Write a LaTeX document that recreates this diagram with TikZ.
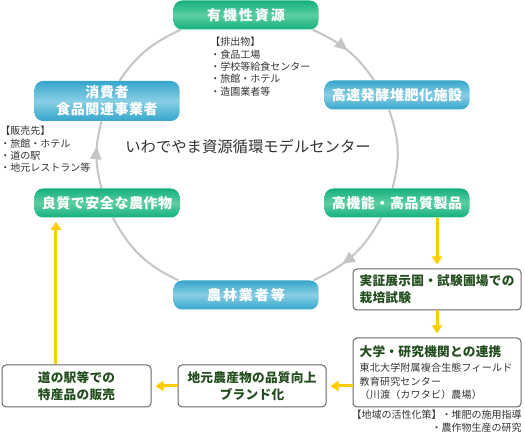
\documentclass[tikz,border=0pt]{standalone}
\usepackage{fontspec}
\setmainfont{Noto Sans CJK JP}
\usepackage{xcolor}
\usepackage{tikz}
\usetikzlibrary{arrows.meta, positioning, calc, backgrounds, decorations.markings}

\definecolor{ringgray}{HTML}{C4C6C4}
\definecolor{greentop}{HTML}{14B07C}
\definecolor{greenmid}{HTML}{5CCEA2}
\definecolor{bluetop}{HTML}{36A6CB}
\definecolor{bluemid}{HTML}{88CEE5}
\definecolor{flowyellow}{HTML}{FFCC00}
\definecolor{boxgreen}{HTML}{234D1E}
\definecolor{notegray}{HTML}{333333}
\definecolor{boxline}{HTML}{666666}

\begin{document}
\begin{tikzpicture}[
    x=0.75pt, y=0.75pt,
    cyc/.style={rectangle, rounded corners=6.5pt, minimum width=108.75pt,
                minimum height=21.75pt, inner sep=0pt, align=center, text=white,
                font=\fontsize{10.5}{12.5}\selectfont\bfseries\addfontfeature{LetterSpace=4}},
    greencyc/.style={cyc, top color=greentop, bottom color=greentop, middle color=greenmid},
    bluecyc/.style={cyc, top color=bluetop, bottom color=bluetop, middle color=bluemid},
    flowbox/.style={rectangle, draw=boxline, line width=0.75pt, rounded corners=3pt,
                    fill=white, text=boxgreen, inner sep=0pt,
                    font=\fontsize{9.5}{12.5}\selectfont\bfseries\addfontfeature{LetterSpace=2}},
    note/.style={inner sep=0pt, align=left, text=notegray, font=\fontsize{7.5}{9.3}\selectfont},
    ring/.style={draw=ringgray, line width=1.5pt},
    midarrow/.style={postaction={decorate, decoration={markings,
                     mark=at position #1 with {\arrow{Triangle[length=9.5pt, width=8.5pt]}}}}},
    flow/.style={draw=flowyellow, line width=2.25pt, -{Triangle[length=6pt, width=7.5pt]}, shorten >=3pt}
]
\useasboundingbox (0,0) rectangle (525,434);

% cycle
\node[greencyc] (org) at (246,419) {\addfontfeature{LetterSpace=14}有機性資源};
\node[bluecyc] (ferm) at (397,339) {高速発酵堆肥化施設};
\node[greencyc] (prod) at (397,231) {高機能・高品質製品};
\node[bluecyc] (farm) at (246,139) {\addfontfeature{LetterSpace=14}農林業者等};
\node[greencyc] (crop) at (107,231) {良質で安全な農作物};
\node[bluecyc, minimum height=30pt] (cons) at (107,333) {消費者\\食品関連事業者};

\node[text=notegray, font=\fontsize{11.5}{13}\selectfont] (title) at (248,287) {いわでやま資源循環モデルセンター};

\node[note, anchor=north west] (waste) at (210,397) {【排出物】\\・食品工場\\・学校等給食センター\\・旅館・ホテル\\・造園業者等};
\node[note, anchor=north west] (sales) at (0,308) {【販売先】\\・旅館・ホテル\\・道の駅\\・地元レストラン等};

% flow
\node[flowbox, minimum width=126pt, minimum height=30.75pt, text width=116pt, align=left] (test) at (437,144.5) {実証展示園・試験圃場での\\栽培試験};
\node[flowbox, minimum width=126pt, minimum height=51.75pt, text width=116pt, align=left, below=20.25pt of test] (univ)
    {大学・研究機関との連携\par\vspace{1.5pt}
     {\fontsize{7.5}{10.1}\selectfont\mdseries\color{notegray}東北大学附属複合生態フィールド\\教育研究センター\\（川渡（カワタビ）農場）\par}};
\node[flowbox, minimum width=111pt, minimum height=31.5pt, align=center, anchor=south east] (brand) at ([xshift=-19.5pt]univ.south west) {地元農産物の品質向上\\ブランド化};
\node[flowbox, minimum width=111.75pt, minimum height=31.5pt, align=center, left=19.5pt of brand] (shop) {道の駅等での\\特産品の販売};
\node[note, anchor=north east, align=right] (local) at (522,24) {【地域の活性化策】・堆肥の施用指導\\・農作物生産の研究};

\begin{scope}[on background layer]
\draw[ring, midarrow=0.5] ($(org.south east)+(-6,0)$) to[out=-24.5, in=124] ($(ferm.north)+(-23,0)$);
\draw[ring] ($(ferm.south)+(-8,0)$) to[out=-70, in=75] ($(prod.north)+(-4.5,0)$);
\draw[ring, midarrow=0.65] ($(prod.south)+(-16,0)$) to[out=-118, in=25] ($(farm.north east)+(-5,0)$);
\draw[ring] ($(farm.north west)+(5,0)$) to[out=155, in=-62] ($(crop.south)+(6,0)$);
\draw[ring, midarrow=0.62] ($(crop.north)+(-5.5,0)$) to[out=105, in=-105] ($(cons.south)+(-5.5,0)$);
\draw[ring] ($(cons.north)+(12.5,0)$) to[out=56, in=-155.5] ($(org.south west)+(7.5,0)$);
\end{scope}

\coordinate (up) at ([xshift=-15.4pt]shop.north);
\draw[flow] (prod.south -| test.north) -- (test.north);
\draw[flow] (test) -- (univ);
\draw[flow] (univ.west |- brand) -- (brand);
\draw[flow] (brand) -- (shop);
\draw[flow] (up) -- (up |- crop.south);

\end{tikzpicture}
\end{document}
